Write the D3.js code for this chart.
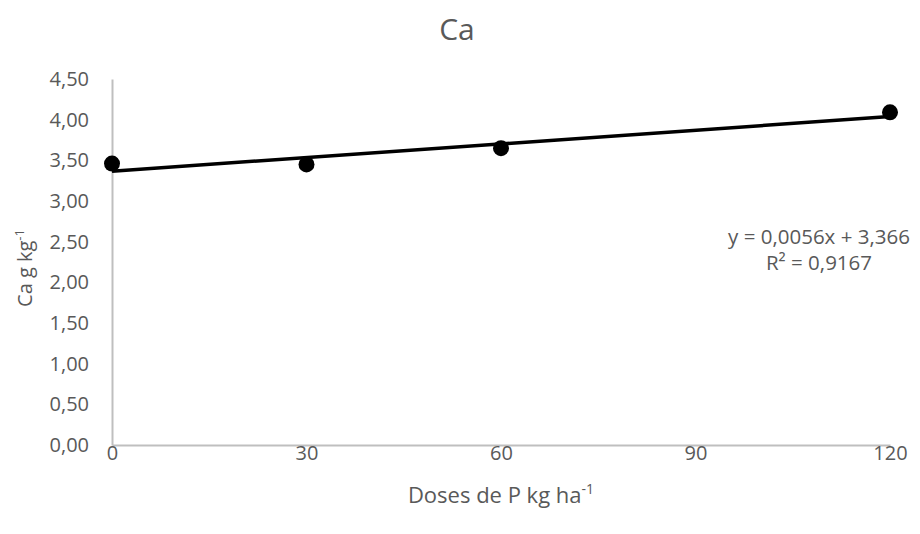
<!DOCTYPE html>
<html>
<head>
<meta charset="utf-8">
<script src="https://cdn.jsdelivr.net/npm/d3@7"></script>
<style>
  html, body { margin: 0; padding: 0; background: #fff; }
  svg { display: block; font-family: "Open Sans", "Liberation Sans", sans-serif; }
</style>
</head>
<body>
<svg id="chart" width="920" height="534"></svg>
<script>
// Doses of P (kg/ha) and measured Ca (g/kg)
const doses = [0, 30, 60, 120];
const caValues = [3.46, 3.45, 3.65, 4.09];
const xTicks = [0, 30, 60, 90, 120];
const yTicks = [0, 0.5, 1, 1.5, 2, 2.5, 3, 3.5, 4, 4.5];
// Linear trendline y = a·x + b
const trendSlope = 0.0056;
const trendIntercept = 3.366;
const trendR2 = "0,9167";

const svg = d3.select("#chart");
const W = 920, H = 534;
const m = { left: 112, right: 30, top: 79, bottom: 89 };
const textColor = "#595959";
const axisColor = "#bfbfbf";

const ptBR = d3.formatLocale({ decimal: ",", thousands: ".", grouping: [3], currency: ["R$", ""] });
const fmt2 = ptBR.format(".2f");

const x = d3.scaleLinear().domain([0, 120]).range([m.left, W - m.right]);
const y = d3.scaleLinear().domain([0, 4.5]).range([H - m.bottom, m.top]);

// Y axis
const yAxis = svg.append("g")
  .attr("transform", `translate(${m.left},0)`)
  .call(d3.axisLeft(y).tickValues(yTicks).tickFormat(fmt2).tickSize(0).tickPadding(23));
yAxis.select(".domain").attr("stroke", axisColor).attr("stroke-width", 2);
yAxis.selectAll("text").attr("fill", textColor).style("font-size", "20px")
  .style("font-family", "'Open Sans', sans-serif");

// X axis
const xAxis = svg.append("g")
  .attr("transform", `translate(0,${H - m.bottom})`)
  .call(d3.axisBottom(x).tickValues(xTicks).tickFormat(d3.format("d")).tickSize(0).tickPadding(1));
xAxis.select(".domain").attr("stroke", axisColor).attr("stroke-width", 2);
xAxis.selectAll("text").attr("fill", textColor).style("font-size", "20px")
  .style("font-family", "'Open Sans', sans-serif");

// Title
svg.append("text")
  .attr("x", 457).attr("y", 40)
  .attr("text-anchor", "middle")
  .attr("fill", textColor)
  .style("font-size", "30px")
  .text("Ca");

// X axis title
const xt = svg.append("text")
  .attr("x", 501).attr("y", 503)
  .attr("text-anchor", "middle")
  .attr("fill", textColor)
  .style("font-size", "22px");
xt.append("tspan").text("Doses de P kg ha");
xt.append("tspan").attr("dy", -9).style("font-size", "14px").text("-1");

// Y axis title
const yt = svg.append("text")
  .attr("transform", "translate(32,268) rotate(-90)")
  .attr("text-anchor", "middle")
  .attr("fill", textColor)
  .style("font-size", "20px");
yt.append("tspan").text("Ca g kg");
yt.append("tspan").attr("dy", -8).style("font-size", "13px").text("-1");

// Trendline
const trend = [0, 120].map(d => [d, trendSlope * d + trendIntercept]);
svg.append("path")
  .datum(trend)
  .attr("fill", "none")
  .attr("stroke", "#000")
  .attr("stroke-width", 3.5)
  .attr("d", d3.line().x(d => x(d[0])).y(d => y(d[1])));

// Data points
svg.append("g").selectAll("circle")
  .data(doses.map((d, i) => [d, caValues[i]]))
  .join("circle")
  .attr("cx", d => x(d[0]))
  .attr("cy", d => y(d[1]))
  .attr("r", 8)
  .attr("fill", "#000");

// Equation label
const eq = svg.append("text")
  .attr("text-anchor", "middle")
  .attr("fill", textColor)
  .style("font-size", "20.5px");
eq.append("tspan").attr("x", 819).attr("y", 244)
  .text(`y = ${ptBR.format(".4f")(trendSlope)}x + ${ptBR.format(".3f")(trendIntercept)}`);
eq.append("tspan").attr("x", 819).attr("y", 270)
  .text(`R² = ${trendR2}`);
</script>
</body>
</html>
